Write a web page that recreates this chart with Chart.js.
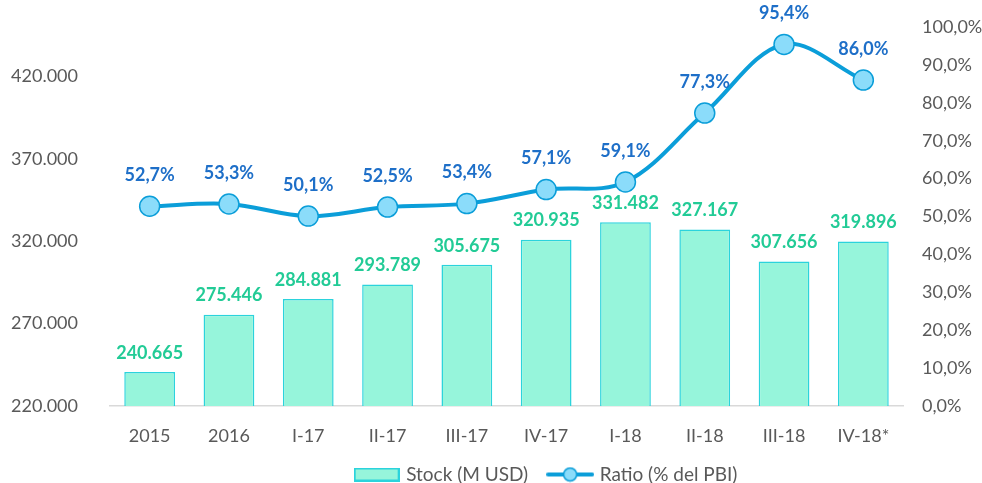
<!DOCTYPE html>
<html>
<head>
<meta charset="utf-8">
<script src="https://cdn.jsdelivr.net/npm/chart.js@4/dist/chart.umd.min.js"></script>
<style>
  html, body { margin: 0; padding: 0; background: #fff; }
  #wrap { width: 982px; height: 483px; }
</style>
</head>
<body>
<div id="wrap"><canvas id="chart"></canvas></div>
<script>
const categories = ['2015', '2016', 'I-17', 'II-17', 'III-17', 'IV-17', 'I-18', 'II-18', 'III-18', 'IV-18*'];
const stockValues = [240665, 275446, 284881, 293789, 305675, 320935, 331482, 327167, 307656, 319896];
const ratioValues = [52.7, 53.3, 50.1, 52.5, 53.4, 57.1, 59.1, 77.3, 95.4, 86.0];
const leftTicks = [220000, 270000, 320000, 370000, 420000];

const FONT = 'Lato, "Noto Sans", sans-serif';
const GREY = '#595959';
const BAR_FILL = '#96F5DB';
const BAR_EDGE = '#2BD3DC';
const LINE = '#0B9ED9';
const DOT = '#8BDCFA';

/** 240665 -> "240.665" */
const thousands = (v) => String(v).replace(/\B(?=(\d{3})+(?!\d))/g, '.');
/** 52.7 -> "52,7%" */
const pct = (v) => v.toFixed(1).replace('.', ',') + '%';

// legend symbols drawn once on little canvases
const makeBarIcon = () => {
    let c = document.createElement('canvas');
    c.width = 46; c.height = 14;
    let g = c.getContext('2d');
    g.fillStyle = BAR_FILL;
    g.fillRect(1, 1, 44, 12);
    g.strokeStyle = BAR_EDGE;
    g.lineWidth = 2;
    g.strokeRect(1, 1, 44, 12);
    return c;
};
const makeLineIcon = () => {
    let c = document.createElement('canvas');
    c.width = 48; c.height = 16;
    let g = c.getContext('2d');
    g.strokeStyle = LINE;
    g.lineWidth = 4;
    g.lineCap = 'round';
    g.beginPath(); g.moveTo(2, 8); g.lineTo(46, 8); g.stroke();
    g.beginPath(); g.arc(24, 8, 6.5, 0, Math.PI * 2);
    g.fillStyle = DOT; g.fill();
    g.lineWidth = 1.5; g.stroke();
    return c;
};

const valueLabels = {
    id: 'valueLabels',
    afterDatasetsDraw(chart) {
        const ctx = chart.ctx;
        ctx.save();
        ctx.textAlign = 'center';
        ctx.textBaseline = 'middle';
        ctx.font = 'bold 18px ' + FONT;

        chart.getDatasetMeta(0).data.forEach((bar, i) => {
            ctx.fillStyle = '#22CB96';
            ctx.fillText(thousands(stockValues[i]), bar.x, bar.y - 19);
        });
        chart.getDatasetMeta(1).data.forEach((pt, i) => {
            ctx.fillStyle = '#1E6FC8';
            ctx.fillText(pct(ratioValues[i]), pt.x, pt.y - 31);
        });
        ctx.restore();
    }
};

// the legend in the original sits a bit right of the page centre
const legendShift = {
    id: 'legendShift',
    afterLayout(chart) {
        chart.legend.left += 56;
        chart.legend.right += 56;
    }
};

// fixed side widths, no extra padding for half label heights
const fixWidth = (w) => (scale) => {
    scale.width = w;
    scale.paddingTop = 0;
    scale.paddingBottom = 0;
};

new Chart(document.getElementById('chart'), {
    data: {
        labels: categories,
        datasets: [
            {
                type: 'bar',
                label: 'Stock (M USD)',
                data: stockValues,
                yAxisID: 'yLeft',
                backgroundColor: BAR_FILL,
                borderColor: BAR_EDGE,
                borderWidth: 1.5,
                barPercentage: 0.64,
                categoryPercentage: 1,
                order: 2,
            },
            {
                type: 'line',
                label: 'Ratio (% del PBI)',
                data: ratioValues,
                yAxisID: 'yRight',
                borderColor: LINE,
                borderWidth: 4,
                tension: 0.35,
                pointRadius: 10,
                pointBackgroundColor: DOT,
                pointBorderColor: LINE,
                pointBorderWidth: 1.5,
                order: 1,
            },
        ],
    },
    options: {
        responsive: true,
        maintainAspectRatio: false,
        animation: false,
        layout: { padding: { top: 27, left: 0, right: 0, bottom: -11 } },
        plugins: {
            tooltip: { enabled: false },
            legend: {
                position: 'bottom',
                labels: {
                    usePointStyle: true,
                    pointStyleWidth: 40,
                    color: GREY,
                    font: { family: FONT, size: 19 },
                    padding: 22,
                    generateLabels: (chart) => {
                        let icons = [makeBarIcon(), makeLineIcon()];
                        return chart.data.datasets.map((ds, i) => ({
                            text: ds.label,
                            pointStyle: icons[i],
                            fontColor: GREY,
                            datasetIndex: i,
                            lineWidth: 0,
                        }));
                    },
                },
            },
        },
        scales: {
            x: {
                grid: { display: false },
                border: { color: '#D9D9D9', width: 1.5 },
                ticks: {
                    color: GREY,
                    font: { family: FONT, size: 18 },
                    padding: 11,
                    maxRotation: 0,
                },
                afterFit: (scale) => { scale.height = 37; },
            },
            yLeft: {
                position: 'left',
                min: 220000,
                max: 450000,
                grid: { display: false },
                border: { display: false },
                ticks: {
                    color: GREY,
                    font: { family: FONT, size: 18 },
                    padding: 24,
                    callback: (v) => thousands(v),
                },
                afterBuildTicks: (scale) => {
                    scale.ticks = leftTicks.map(v => ({ value: v }));
                },
                afterFit: fixWidth(110),
            },
            yRight: {
                position: 'right',
                min: 0,
                max: 100,
                grid: { display: false },
                border: { display: false },
                ticks: {
                    stepSize: 10,
                    color: GREY,
                    font: { family: FONT, size: 18 },
                    padding: 11,
                    callback: (v) => pct(v),
                },
                afterFit: fixWidth(79),
            },
        },
    },
    plugins: [valueLabels, legendShift],
});
</script>
</body>
</html>
